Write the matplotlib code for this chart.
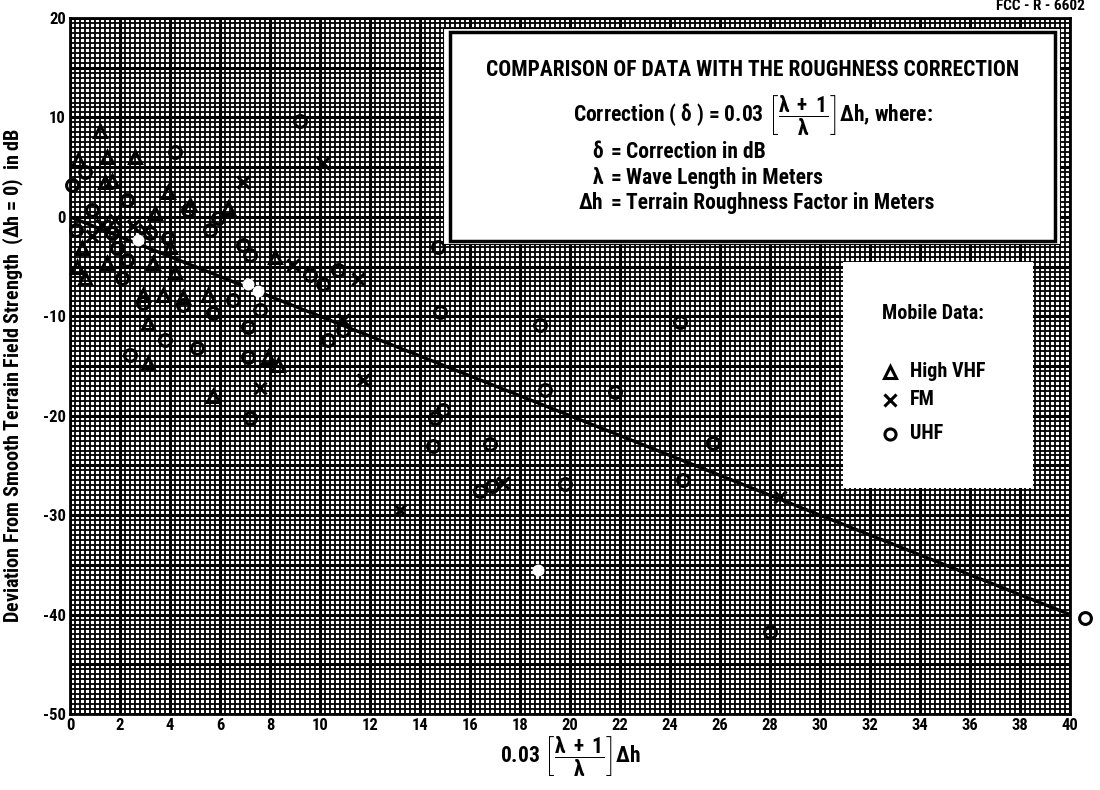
import numpy as np
import matplotlib
matplotlib.use('Agg')
import matplotlib.pyplot as plt
from matplotlib import font_manager
from matplotlib.patches import Rectangle

# pick a narrow bold face if one is around (the scan uses a condensed type)
ttf = font_manager.fontManager.ttflist
names = {f.name for f in ttf}
face, stretch = 'DejaVu Sans', 'normal'
for cand in ['Liberation Sans Narrow', 'Roboto Condensed', 'Open Sans Condensed', 'Noto Sans Condensed']:
    if cand in names:
        face = cand
        break
else:
    if any(f.name == 'DejaVu Sans' and f.stretch == 'condensed' for f in ttf):
        stretch = 'condensed'

plt.rcParams['font.family'] = [face, 'DejaVu Sans']
plt.rcParams['font.stretch'] = stretch
plt.rcParams['font.weight'] = 'bold'
plt.rcParams['axes.unicode_minus'] = False
plt.rcParams['mathtext.fontset'] = 'custom'
plt.rcParams['mathtext.rm'] = face + ':bold'
plt.rcParams['mathtext.it'] = face + ':bold'
plt.rcParams['mathtext.bf'] = face + ':bold'

# ---- data ----
vhf_x = [1.2, 1.47, 2.6, 0.33, 1.4, 1.7, 3.9, 3.4, 4.8, 6.3, 8.2, 4.2, 0.6, 0.5, 0.3,
         3.3, 1.5, 4.0, 2.9, 3.7, 4.5, 5.5, 3.1, 3.1, 7.9, 8.3, 5.7]
vhf_y = [8.6, 6.0, 6.0, 5.7, 3.5, 3.6, 2.5, 0.4, 1.2, 0.9, -4.0, -5.5, -6.1, -3.1, -5.0,
         -4.6, -4.6, -3.0, -7.9, -7.9, -8.1, -7.9, -10.7, -14.7, -14.1, -14.9, -18.0]

fm_x = [6.9, 10.1, 8.9, 11.5, 10.9, 11.7, 7.6, 13.2, 17.3, 28.4, 1.3, 1.8, 0.9, 2.5, 3.0]
fm_y = [3.5, 5.4, -4.8, -6.3, -10.4, -16.4, -17.2, -29.5, -26.8, -28.2, -0.8, -0.3, -1.9, -0.9, -1.3]

uhf_x = [4.2, 0.6, 0.07, 2.3, 0.9, 4.7, 5.9, 5.6, 0.24, 6.9, 7.2, 9.6, 10.1, 10.7, 14.7,
         9.2, 1.9, 2.1, 3.9, 2.3, 1.7, 3.2, 2.9, 4.5, 5.7, 6.5, 7.6, 7.1, 3.8, 2.4,
         5.1, 7.1, 10.3, 10.9, 14.8, 7.2, 14.6, 14.9, 14.5, 18.8, 24.4, 19.0, 21.8, 16.8,
         25.7, 16.4, 16.9, 19.8, 24.5, 28.0, 40.6]
uhf_y = [6.5, 4.5, 3.2, 1.7, 0.7, 0.7, -0.1, -1.3, -1.3, -2.8, -3.8, -5.8, -6.8, -5.3, -3.0,
         9.6, -3.1, -6.1, -2.1, -4.3, -1.6, -1.6, -8.7, -8.9, -9.7, -8.4, -9.4, -11.1, -12.4, -13.9,
         -13.2, -14.1, -12.4, -11.4, -9.6, -20.2, -20.2, -19.4, -23.0, -10.9, -10.6, -17.4, -17.6, -22.8,
         -22.7, -27.6, -27.1, -26.9, -26.5, -41.8, -40.3]

# points that came out white on the scan
uhf_white_x = [7.1, 7.5, 2.7, 18.7]
uhf_white_y = [-6.8, -7.5, -2.3, -35.5]

# correction line delta = 0.03 [(lambda+1)/lambda] dh
line_x = [0, 40]
line_y = [0, -40]

xticks = list(range(0, 41, 2))
yticks = list(range(-50, 21, 10))

fig = plt.figure(figsize=(11, 7.9), dpi=100)
ax = fig.add_axes([70/1100, 1 - 714/790, 1000/1100, 696/790])
ax.set_xlim(0, 40)
ax.set_ylim(-50, 20)

# graph paper
for gx in np.arange(0, 40.01, 0.2):
    ax.axvline(gx, color='black', lw=1.3, zorder=1)
for gy in np.arange(-50, 20.01, 0.5):
    ax.axhline(gy, color='black', lw=1.3, zorder=1)
for gx in np.arange(0, 40.01, 2):
    ax.axvline(gx, color='black', lw=2.2, zorder=1)
for gy in np.arange(-50, 20.01, 5):
    ax.axhline(gy, color='black', lw=2.2, zorder=1)

ax.set_xticks(xticks)
ax.set_yticks(yticks)
ax.tick_params(length=0, labelsize=12, pad=3)
for lab in ax.get_xticklabels() + ax.get_yticklabels():
    lab.set_fontweight('bold')
for sp in ax.spines.values():
    sp.set_linewidth(2)

ax.plot(line_x, line_y, color='black', lw=2.4, zorder=3)

mk = dict(linestyle='none', color='black', markersize=8.5, markeredgewidth=2.2, zorder=4, clip_on=False)
ax.plot(vhf_x, vhf_y, marker='^', markerfacecolor='none', **mk)
ax.plot(fm_x, fm_y, marker='x', **mk)
ax.plot(uhf_x, uhf_y, marker='o', markerfacecolor='none', **mk)
ax.plot(uhf_white_x, uhf_white_y, marker='o', markerfacecolor='white', markeredgecolor='white',
        linestyle='none', markersize=7.5, zorder=4)

# info box
ax.add_patch(Rectangle((14.92, -2.7), 24.68, 21.7, facecolor='white', edgecolor='black', lw=0.8, zorder=5))
ax.add_patch(Rectangle((15.2, -2.45), 24.2, 21.08, facecolor='white', edgecolor='black', lw=2.5, zorder=6))
ax.text(27.3, 14.8, 'COMPARISON OF DATA WITH THE ROUGHNESS CORRECTION', ha='center', va='center',
        fontsize=15.5, fontweight='bold', zorder=7)
ax.text(27.3, 10.2, r'Correction ( $\delta$ ) = 0.03 $\left[\dfrac{\lambda\ +\ 1}{\lambda}\right]\Delta$h, where:',
        ha='center', va='center', fontsize=15.5, fontweight='bold', zorder=7)
for sym, desc, yy in [(r'$\delta$', 'Correction in dB', 6.5),
                      (r'$\lambda$', 'Wave Length in Meters', 3.9),
                      (r'$\Delta$h', 'Terrain Roughness Factor in Meters', 1.4)]:
    ax.text(21.35, yy, sym, ha='right', va='center', fontsize=15.5, fontweight='bold', zorder=7)
    ax.text(21.85, yy, '=', ha='center', va='center', fontsize=15.5, fontweight='bold', zorder=7)
    ax.text(22.25, yy, desc, ha='left', va='center', fontsize=15.5, fontweight='bold', zorder=7)

# legend box
ax.add_patch(Rectangle((30.9, -27.3), 7.6, 22.8, facecolor='white', edgecolor='none', zorder=5))
ax.text(32.5, -9.7, 'Mobile Data:', ha='left', va='center', fontsize=14.5, fontweight='bold', zorder=7)
leg_items = [('^', 'High VHF', -15.6), ('x', 'FM', -18.4), ('o', 'UHF', -21.8)]
for m, name, yy in leg_items:
    ax.plot([32.8], [yy], marker=m, color='black', markerfacecolor='none', markersize=8,
            markeredgewidth=2.2, linestyle='none', zorder=7)
    ax.text(33.6, yy, name, ha='left', va='center', fontsize=14.5, fontweight='bold', zorder=7)

ax.set_ylabel(r'Deviation From Smooth Terrain Field Strength  ($\Delta$h = 0)  in dB',
              fontsize=14.5, fontweight='bold')
ax.yaxis.set_label_coords(-0.044, 0.486)
ax.set_xlabel(r'0.03 $\left[\dfrac{\lambda\ +\ 1}{\lambda}\right]\Delta$h', fontsize=15.5,
              fontweight='bold', labelpad=1)

fig.text(1085/1100, 1 - 6/790, 'FCC - R - 6602', ha='right', va='center', fontsize=11, fontweight='bold')

fig.savefig('out.png', dpi=100)
